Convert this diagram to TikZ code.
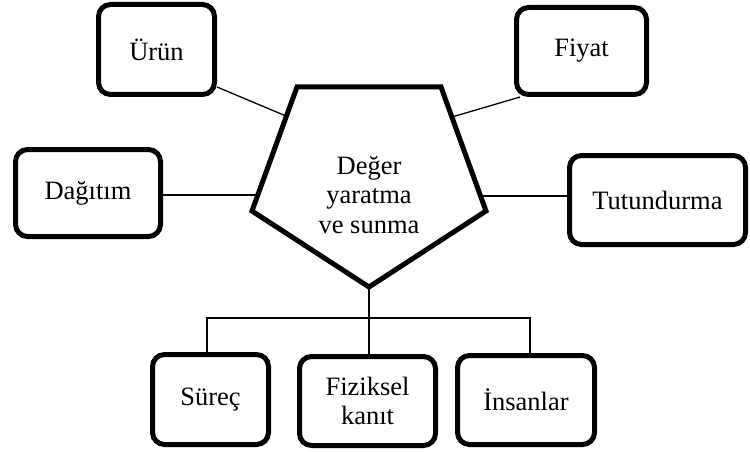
\documentclass[tikz,border=0pt]{standalone}
\usepackage{fontspec}
\setmainfont{Liberation Serif}
\usetikzlibrary{calc}
\pgfdeclarelayer{background}
\pgfsetlayers{background,main}
\begin{document}
\begin{tikzpicture}[x=1pt,y=-1pt,
  box/.style={draw=black,fill=white,line width=5pt,rounded corners=12pt,
    align=center,inner sep=0pt,font=\fontsize{26.5}{29}\selectfont},
  link/.style={draw=black,line width=1.3pt},
  hub/.style={draw=black,line width=5pt,line join=miter,fill=white}]
\useasboundingbox (0,0) rectangle (750,452);

% outer elements
\node[box,minimum width=116pt,minimum height=90pt] (urun) at (156.5,49.5) {Ürün};
\node[box,minimum width=130pt,minimum height=87pt] (fiyat) at (581.5,51) {Fiyat};
\node[box,minimum width=145pt,minimum height=87pt] (dag) at (88,193) {Dağıtım};
\node[box,minimum width=176pt,minimum height=89pt] (tut) at (657.5,200) {Tutundurma};
\node[box,minimum width=116pt,minimum height=90pt] (surec) at (210.5,399.5) {Süreç};
\node[box,minimum width=136pt,minimum height=89pt] (fiz) at (367.5,401) {Fiziksel\\kanıt};
\node[box,minimum width=137pt,minimum height=89pt] (insan) at (526,400) {İnsanlar};

% central pentagon corners
\coordinate (pTL) at (297,87);
\coordinate (pTR) at (441,87);
\coordinate (pR) at (486,211);
\coordinate (pB) at (369,287);
\coordinate (pL) at (252,211);
\draw[hub] (pTL) -- (pTR) -- (pR) -- (pB) -- (pL) -- cycle;
\node[align=center,font=\fontsize{26.5}{29.5}\selectfont] (core) at (369,195)
  {Değer\\yaratma\\ve sunma};

% attachment points on the pentagon edges
\coordinate (aU) at (286,116);
\coordinate (aF) at (452,117);
\coordinate (aD) at (257.8,195);
\coordinate (aT) at (480.5,196);
\coordinate (bus) at (369,318);

\begin{pgfonlayer}{background}
  \draw[link] ([yshift=10pt]urun.south east) -- (aU);
  \draw[link] ([xshift=6pt]fiyat.south west) -- (aF);
  \draw[link] ([yshift=-2pt]dag.east) -- (aD);
  \draw[link] ([yshift=4pt]tut.west) -- (aT);
  \draw[link] (pB) -- (pB |- fiz.north);
  \draw[link] ([xshift=-3.5pt]surec.north) |- (bus) -| ([xshift=4pt]insan.north);
\end{pgfonlayer}
\end{tikzpicture}
\end{document}
